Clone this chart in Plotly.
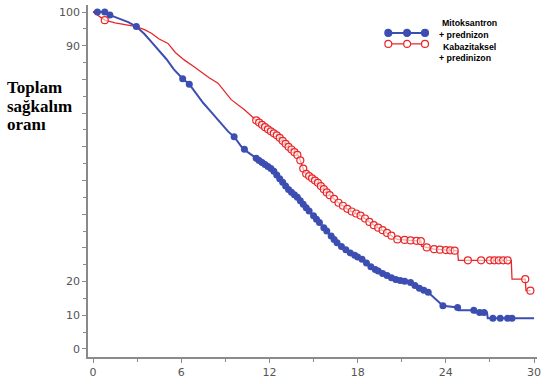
import numpy as np
import plotly.graph_objects as go

# ---- data (months, % surviving) ----
mito_t = [0, 0.8, 1.2, 1.7, 2.4, 2.95, 3.5, 4.0, 4.5, 5.0, 5.5, 6.1, 6.55, 7.0, 7.5, 8.0, 8.6,
          9.2, 9.6, 10.1, 10.5, 11.06, 11.6, 12.2, 12.8, 13.3, 13.9, 14.4, 15.0, 15.6, 16.2,
          16.7, 17.5, 18.3, 19.0, 19.8, 20.5, 21.6, 22.2, 22.8, 23.4, 23.8, 24.8, 24.85,
          25.9, 25.95, 26.8, 26.85, 30.0]
mito_s = [100, 100, 99, 98.2, 97, 95.7, 93.5, 91, 88.5, 86, 83, 80.2, 78.6, 76, 73, 70.5, 67.5,
          64.5, 63, 60, 58.5, 56.7, 55, 53.3, 50, 47.3, 45, 42.4, 39.5, 36.5, 33.5,
          31, 28.5, 26.6, 24, 22.2, 20.7, 19.7, 18, 16.8, 14.5, 12.8, 12.3, 11.5,
          11.5, 10.8, 10.8, 9.1, 9.1]
mito_cens = [0.3, 0.8, 1.15, 2.95, 6.1, 6.55, 9.6, 10.3, 11.1, 11.3, 11.5, 11.7, 11.9, 12.1,
             12.3, 12.5, 12.7, 12.9, 13.1, 13.3, 13.5, 13.7, 13.9, 14.1, 14.3, 14.5, 14.7,
             15.0, 15.2, 15.4, 15.7, 15.9, 16.2, 16.4, 16.6, 16.9, 17.2, 17.5, 17.8, 18.0,
             18.3, 18.6, 18.9, 19.2, 19.4, 19.7, 20.0, 20.3, 20.6, 20.9, 21.2, 21.6, 21.9,
             22.2, 22.5, 22.8, 23.8, 24.8, 25.9, 26.3, 26.6, 27.2, 27.7, 28.2, 28.5]

kaba_t = [0, 0.5, 0.8, 1.5, 2.4, 2.95, 3.5, 3.97, 4.5, 5.1, 5.6, 6.2, 6.8, 7.3, 7.9, 8.5, 9.0,
          9.4, 10.3, 11.06, 11.8, 12.6, 13.3, 14.0, 14.4, 15.3, 16.0, 16.7, 17.5, 18.3, 19.0,
          19.8, 20.7, 22.3, 22.35, 23.2, 24.8, 24.85, 28.45, 28.5, 29.4, 29.45, 29.75]
kaba_s = [100, 98.5, 97.6, 96.8, 96.1, 95.7, 94.8, 93.7, 92, 90.7, 88, 85.8, 84, 82.3, 80.5,
          78.9, 76, 74, 71, 68, 65.5, 63.1, 60, 57.2, 52.3, 49.3, 46, 43.4, 41, 39.4, 37,
          35, 32.5, 32, 30.5, 29.6, 29.1, 26.3, 26.3, 20.7, 20.7, 17.3, 17.3]
kaba_cens = [0.8, 11.1, 11.3, 11.5, 11.7, 11.9, 12.1, 12.3, 12.5, 12.7, 12.9, 13.1, 13.3, 13.5,
             13.7, 13.9, 14.1, 14.3, 14.5, 14.7, 14.9, 15.1, 15.3, 15.5, 15.7, 15.9, 16.1,
             16.4, 16.7, 17.0, 17.3, 17.6, 17.9, 18.2, 18.5, 18.8, 19.1, 19.4, 19.7, 20.0,
             20.3, 20.7, 21.2, 21.6, 22.0, 22.3, 22.7, 23.2, 23.6, 24.0, 24.3, 24.6,
             25.5, 26.4, 27.0, 27.3, 27.6, 27.9, 28.2, 29.4, 29.75]

x_ticks = [0, 6, 12, 18, 24, 30]
y_ticks = [0, 10, 20, 30, 40, 50, 60, 70, 80, 90, 100]
y_labels = ["0", "10", "20", "", "", "", "", "", "", "90", "100"]

BLUE = "rgb(60,78,178)"
RED = "rgb(232,38,40)"


def on_curve(times, surv, q):
    return list(np.interp(q, times, surv))


fig = go.Figure()
fig.add_trace(go.Scatter(x=mito_t, y=mito_s, mode="lines", line=dict(color=BLUE, width=2),
                         showlegend=False, hoverinfo="skip"))
fig.add_trace(go.Scatter(x=kaba_t, y=kaba_s, mode="lines", line=dict(color=RED, width=1.3),
                         showlegend=False, hoverinfo="skip"))
fig.add_trace(go.Scatter(x=mito_cens, y=on_curve(mito_t, mito_s, mito_cens), mode="markers",
                         marker=dict(color=BLUE, size=7, line=dict(width=0)), showlegend=False))
fig.add_trace(go.Scatter(x=kaba_cens, y=on_curve(kaba_t, kaba_s, kaba_cens), mode="markers",
                         marker=dict(color="rgba(255,255,255,0.6)", size=7, symbol="circle",
                                     line=dict(color=RED, width=1.2)), showlegend=False))

# ---- manual legend (paper coords) ----
L, W, T, H = 88, 453, 5, 353
B = T + H


def px(x):
    return (x - L) / W


def py(y):
    return (B - y) / H


shapes = []
for yy, col, fill in [(33, BLUE, BLUE), (44, RED, "white")]:
    shapes.append(dict(type="line", xref="paper", yref="paper", x0=px(390), x1=px(428), y0=py(yy), y1=py(yy),
                       line=dict(color=col, width=2 if col == BLUE else 1.4)))
    for cx in (391, 410, 428):
        shapes.append(dict(type="circle", xref="paper", yref="paper", x0=px(cx - 3.5), x1=px(cx + 3.5),
                           y0=py(yy + 3.5), y1=py(yy - 3.5), fillcolor=fill,
                           line=dict(color=col, width=1.2)))

annots = []
leg_font = dict(family="Liberation Sans, Arial", size=8.8, color="black")
for txt, x, y in [("<b>Mitoksantron</b>", 443, 23), ("<b>+ prednizon</b>", 440, 35),
                  ("<b>Kabazitaksel</b>", 444, 47), ("<b>+ predinizon</b>", 440, 58)]:
    annots.append(dict(text=txt, xref="paper", yref="paper", x=px(x), y=py(y), xanchor="left",
                       yanchor="middle", showarrow=False, font=leg_font))

ttl_font = dict(family="Liberation Serif, Times New Roman", size=17, color="black")
for txt, y in [("<b>Toplam</b>", 88), ("<b>sağkalım</b>", 107), ("<b>oranı</b>", 125)]:
    annots.append(dict(text=txt, xref="paper", yref="paper", x=px(4), y=py(y), xanchor="left",
                       yanchor="middle", showarrow=False, font=ttl_font))

axis_common = dict(showgrid=False, zeroline=False, showline=True, linecolor="#8a8a8a", linewidth=1.5,
                   ticks="outside", ticklen=4, tickcolor="#8a8a8a", tickwidth=1,
                   tickfont=dict(family="DejaVu Sans", size=11, color="#555555"))

fig.update_layout(
    width=546, height=384, margin=dict(l=L, r=546 - L - W, t=T, b=384 - B),
    paper_bgcolor="white", plot_bgcolor="white",
    xaxis=dict(range=[-0.34, 30.2], tickvals=x_ticks,
               minor=dict(dtick=3, tick0=0, ticks="outside", ticklen=3, tickcolor="#8a8a8a"),
               **axis_common),
    yaxis=dict(range=[-2.4, 102.1], tickvals=y_ticks, ticktext=y_labels,
               minor=dict(dtick=5, tick0=0, ticks="outside", ticklen=3, tickcolor="#8a8a8a"),
               **axis_common),
    shapes=shapes, annotations=annots,
)

fig.write_html("out.html", config={"displayModeBar": False},
               post_script="document.body.style.margin='0';document.body.style.overflow='hidden';")
